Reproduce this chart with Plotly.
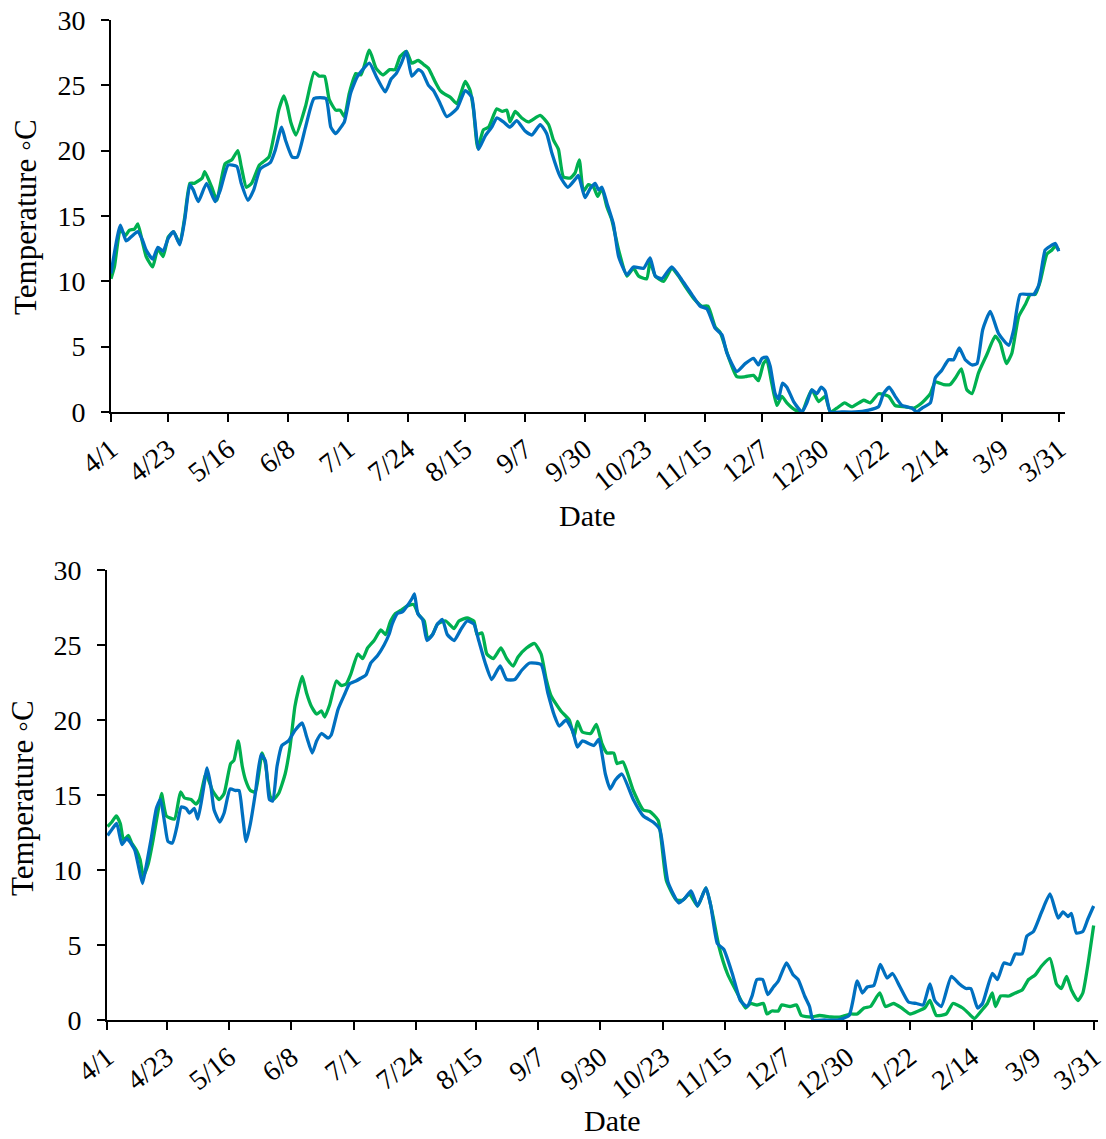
import plotly.graph_objects as go

# ---- tick labels (day offset from 4/1) ----
tick_days = [0, 22, 45, 68, 91, 114, 136, 159, 182, 205, 228, 250, 273, 296, 319, 342, 364]
tick_labels = ["4/1", "4/23", "5/16", "6/8", "7/1", "7/24", "8/15", "9/7", "9/30",
               "10/23", "11/15", "12/7", "12/30", "1/22", "2/14", "3/9", "3/31"]
y_ticks = [0, 5, 10, 15, 20, 25, 30]

# ---- top panel, green series ----
top_green_day = [0, 1.3, 3.6, 5.5, 7, 9, 10.3, 12.2, 13.5, 16, 18, 20, 22, 24, 26.4, 28.3, 30.3, 32, 35, 36,
                 38.7, 40.6, 43.8, 46.4, 48.7, 50, 52, 54, 57, 60.6, 63, 64.4, 66.4, 67.7, 69, 71, 74.7, 78, 80,
                 82, 83.8, 86.3, 88, 89.6, 91.5, 94, 96, 99.2, 101.8, 104.4, 107, 109, 111, 113.4, 115.5, 118,
                 120, 121.9, 123.2, 124.4, 126.4, 128.3, 130.2, 132.8, 136, 137.9, 139.2, 140.8, 143, 145,
                 148.1, 150.3, 152, 153.2, 155.2, 157.7, 160.3, 164.8, 168, 169.9, 171.8, 173.7, 176.3, 178.2,
                 179.8, 181.4, 183.3, 185.3, 186.9, 188.5, 190.4, 192.3, 194.9, 198.1, 200.6, 202.6, 205.7,
                 207, 209, 212.2, 215.3, 217.9, 220.5, 223.7, 226.9, 229.2, 232, 233.9, 237.1, 240.3, 243.5,
                 246.7, 248.6, 250.5, 251.8, 253.7, 255.7, 257.6, 259.5, 262.7, 265.3, 267.2, 269.1, 271.7,
                 274.2, 276.2, 278.7, 281.7, 284.5, 289, 291.5, 294.7, 298.6, 301.1, 305, 308.2, 311.4, 314.6,
                 316.5, 319.7, 322.2, 324.2, 326.5, 328.6, 330.6, 333.1, 336.3, 339.5, 341.4, 343.8, 345.9,
                 348.5, 351, 353, 354.9, 356.8, 359.4, 361.3, 362.6, 363.9]
top_green_temp = [10.2, 11.1, 14.0, 13.5, 13.9, 14.0, 14.4, 12.9, 11.9, 11.1, 12.5, 11.9, 13.4, 13.8, 12.9, 14.9,
                  17.5, 17.5, 17.9, 18.4, 17.2, 16.2, 19.0, 19.3, 20.0, 18.8, 17.2, 17.5, 18.9, 19.5, 21.6,
                  23.1, 24.2, 23.4, 22.2, 21.2, 23.4, 26.0, 25.7, 25.7, 23.9, 23.1, 23.1, 22.6, 24.4, 25.9,
                  25.8, 27.7, 26.3, 25.8, 26.2, 26.2, 27.2, 27.6, 26.7, 26.9, 26.6, 26.3, 25.8, 25.3, 24.6,
                  24.3, 24.1, 23.6, 25.3, 24.6, 23.1, 20.2, 21.6, 21.8, 23.2, 23.0, 23.1, 22.2, 23.0, 22.5,
                  22.2, 22.7, 22.0, 20.8, 20.1, 18.0, 17.9, 18.3, 19.3, 16.9, 17.4, 17.2, 16.5, 17.1, 15.7,
                  14.7, 12.4, 10.4, 11.0, 10.4, 10.2, 11.5, 10.4, 10.0, 11.0, 10.4, 9.6, 8.7, 8.1, 8.1, 6.5,
                  6.1, 4.2, 2.7, 2.7, 2.8, 2.4, 3.7, 4.0, 2.2, 0.5, 1.2, 0.7, 0.15, 0.0, 0.9, 1.7, 0.8, 1.2,
                  0.0, 0.3, 0.7, 0.4, 0.9, 0.7, 1.4, 1.2, 0.5, 0.4, 0.3, 0.7, 1.4, 2.3, 2.1, 2.1, 2.6, 3.3,
                  1.7, 1.4, 3.0, 4.4, 5.8, 5.3, 3.7, 4.5, 7.3, 8.2, 9.0, 9.0, 10.0, 12.1, 12.4, 12.7, 12.4]

# ---- top panel, blue series ----
top_blue_day = [0, 3.6, 5.8, 7.7, 10.3, 12.2, 13.5, 16, 18, 20, 22, 24, 26.4, 28.3, 30.3, 31.6, 33.5, 36.7, 40,
                42, 45, 48.3, 50, 52.6, 54.8, 57.3, 61.2, 63, 65.5, 67, 69.6, 71.5, 74.7, 78, 82.5, 84.4,
                86.3, 88.3, 89.6, 92, 94.7, 99.2, 101.8, 105.3, 107.6, 109.5, 111.5, 113.4, 115.5, 118,
                119.5, 121.9, 123.8, 126.4, 128.9, 132.8, 136, 138.5, 139.8, 141.1, 143.6, 146.2, 148.1,
                150.7, 153.2, 155.8, 159, 161.6, 164.8, 167.3, 169.3, 172.5, 175.4, 178.2, 179.5, 182, 184,
                185.9, 187.2, 188.5, 190.4, 192.9, 194.9, 198.1, 200.6, 204.5, 207, 209, 211.5, 215.3, 219.2,
                223, 226.2, 228.8, 232, 234.6, 236.5, 240.3, 243.5, 246.7, 248.6, 249.9, 251.8, 253.1, 255,
                256.3, 257.8, 259.5, 262.1, 265.3, 267.2, 269.1, 271, 272.7, 274.2, 276.2, 280.6, 285.8,
                290.9, 294.7, 296.6, 298.8, 301.1, 303.7, 307.5, 309.4, 311.4, 314.6, 316.5, 319, 321.6,
                323.5, 325.7, 328, 330.6, 332.5, 334.7, 337.6, 340.8, 344.7, 346.6, 349.1, 352.3, 354.3,
                356.2, 358.7, 360.7, 362.6, 363.9]
top_blue_temp = [10.6, 14.3, 13.1, 13.4, 13.8, 13.1, 12.4, 11.7, 12.6, 12.3, 13.3, 13.8, 12.8, 14.7, 17.4, 17.0,
                 16.1, 17.5, 16.1, 17.0, 18.9, 18.8, 17.5, 16.2, 17.0, 18.6, 19.1, 20.0, 21.8, 20.8, 19.5,
                 19.5, 21.8, 24.0, 24.0, 21.8, 21.3, 21.8, 22.2, 24.4, 25.7, 26.7, 25.7, 24.5, 25.5, 25.9,
                 26.7, 27.6, 25.7, 26.2, 26.0, 25.0, 24.6, 23.6, 22.6, 23.2, 24.6, 24.1, 22.1, 20.1, 21.1,
                 21.8, 22.5, 22.2, 21.8, 22.3, 21.5, 21.2, 22.0, 21.3, 19.8, 18.0, 17.2, 17.8, 18.1, 16.4,
                 17.1, 17.5, 17.0, 17.2, 16.0, 14.4, 11.9, 10.5, 11.1, 11.0, 11.8, 10.4, 10.2, 11.1, 10.1,
                 9.0, 8.1, 7.9, 6.4, 5.9, 4.5, 3.1, 3.7, 4.1, 3.6, 4.1, 4.2, 3.5, 1.4, 1.0, 2.2, 1.9, 0.8,
                 0.0, 0.7, 1.7, 1.4, 1.9, 1.6, 0.0, 0.0, 0.0, 0.15, 0.4, 1.4, 1.9, 1.2, 0.5, 0.3, 0.0, 0.3,
                 0.7, 2.6, 3.2, 4.0, 4.0, 4.9, 4.0, 3.6, 3.7, 6.3, 7.7, 6.0, 5.1, 6.3, 9.0, 9.0, 9.0, 9.7,
                 12.4, 12.7, 12.9, 12.3]

# ---- bottom panel, green series ----
bot_green_day = [0.2, 1.8, 3.4, 4.9, 6.1, 7.9, 9.1, 10.9, 12.2, 13.4, 15.2, 17, 18.9, 20.1, 21.9, 24.9, 27.1,
                 28.6, 31, 32.8, 34.1, 36.5, 38.9, 41.4, 43.2, 45.6, 46.8, 48.4, 49.9, 51.1, 52.9, 54.7, 57.2,
                 58.4, 60.2, 61.4, 63.3, 65.7, 67.5, 69.3, 70.6, 72, 73.6, 75.4, 77.3, 79.1, 80.3, 82.1, 84.6,
                 86.4, 88.2, 90, 92.5, 94.3, 96.1, 98.5, 101, 102.8, 104.6, 106.4, 108.3, 110.7, 113.1, 115,
                 117, 118.3, 120.1, 121.9, 124.9, 128, 129.8, 132.8, 135.3, 136.5, 138.3, 140.1, 142.5, 145.3,
                 147.4, 149.8, 151.6, 154.7, 157.7, 160.1, 162, 163.8, 167.4, 170.5, 172.3, 173.5, 175.3,
                 178.4, 180.5, 182.6, 184.4, 186.9, 188.1, 190.3, 194.1, 197.8, 200.2, 203.3, 206.3, 210,
                 212.4, 214.8, 217.8, 220.9, 223.3, 225.7, 228.8, 233, 235.5, 237.3, 239.7, 242.1, 243.4,
                 245.2, 247.6, 248.8, 251.9, 254.3, 256.1, 259.7, 262.8, 267, 270.7, 274.3, 276.7, 279.2,
                 281.6, 285, 287.1, 290.1, 293.1, 296.2, 299.2, 301.6, 303.5, 305.9, 309.5, 312, 315.6, 318,
                 319.9, 322.9, 324.7, 326.5, 327.7, 329.6, 332.6, 335, 337.5, 339.9, 342.3, 344.7, 347.8,
                 350.2, 352, 353.9, 355.7, 358.1, 359.9, 361.7, 363.9]
bot_green_temp = [12.9, 13.2, 13.6, 13.1, 12.0, 12.3, 11.8, 11.3, 10.7, 9.6, 10.4, 12.0, 14.0, 15.1, 13.6, 13.4,
                  15.2, 14.8, 14.7, 14.4, 14.7, 16.4, 15.3, 14.7, 15.1, 17.1, 17.3, 18.6, 16.9, 16.0, 15.3,
                  15.2, 17.8, 17.1, 14.9, 14.7, 15.1, 16.4, 18.2, 20.9, 22.0, 22.9, 21.8, 20.9, 20.4, 20.6,
                  20.2, 21.0, 22.6, 22.3, 22.4, 23.1, 24.4, 24.1, 24.8, 25.3, 26.0, 25.7, 26.6, 27.1, 27.3,
                  27.6, 27.7, 27.0, 26.6, 25.4, 25.7, 26.4, 26.6, 26.1, 26.6, 26.8, 26.6, 25.7, 25.8, 24.4,
                  24.1, 24.8, 24.1, 23.6, 24.2, 24.8, 25.1, 24.4, 22.7, 21.6, 20.6, 20.0, 18.9, 19.9, 19.2,
                  19.1, 19.7, 18.4, 17.8, 17.8, 17.1, 17.2, 15.3, 14.0, 13.9, 13.3, 9.3, 8.0, 8.0, 8.4, 7.6,
                  8.8, 7.1, 4.9, 3.1, 1.6, 0.8, 1.1, 1.0, 1.1, 0.4, 0.6, 0.6, 1.0, 0.9, 1.0, 0.3, 0.2, 0.3,
                  0.2, 0.2, 0.4, 0.4, 0.8, 0.9, 1.8, 0.9, 1.1, 0.8, 0.4, 0.6, 0.8, 1.3, 0.3, 0.4, 1.1, 0.8,
                  0.4, 0.1, 0.7, 1.1, 1.8, 0.9, 1.6, 1.6, 1.8, 2.0, 2.7, 3.0, 3.6, 4.1, 2.4, 2.1, 2.9, 2.0,
                  1.3, 1.8, 3.6, 6.3]

# ---- bottom panel, blue series ----
bot_blue_day = [0.2, 1.8, 3.6, 5.5, 7.3, 9.1, 10.3, 11.9, 13.1, 14.6, 16.4, 18.2, 19.7, 21.3, 22.5, 24.1, 25.8,
                27.4, 29.2, 30.4, 32.2, 33.5, 35.3, 36.9, 38.3, 39.5, 41.6, 43.2, 45.4, 47.4, 48.7, 49.9, 51.3,
                52.9, 54.7, 56.8, 58.4, 59.9, 61.1, 62.7, 64.5, 66.9, 69.3, 72, 73.6, 75.7, 77.3, 79.1, 81.5,
                82.7, 85.2, 87.6, 89.4, 91.8, 93.7, 95.5, 97.3, 99.8, 102.2, 104, 105.2, 107.1, 108.9, 110.7,
                112.5, 113.4, 114.6, 116.4, 118, 120.1, 121.9, 123.7, 125.5, 128, 130.4, 132.8, 135.3, 137.1,
                139.5, 141.9, 145, 147.4, 150.4, 152.9, 155.9, 160.1, 162.6, 165, 166.8, 169.3, 171.7, 173.5,
                175.3, 179.6, 181.4, 183.8, 185.6, 187.5, 189.9, 194.1, 197.8, 201.4, 203.9, 206.9, 210.9,
                213, 215.4, 217.8, 220.9, 222.7, 225.1, 227.5, 230.6, 233.6, 236.1, 237.9, 239.7, 241.8,
                243.7, 245.8, 247.6, 250.6, 253.1, 254.9, 257.3, 259.1, 260.4, 264.6, 269.5, 273.7, 276.7,
                278.6, 280.4, 282.8, 285.2, 287.7, 289.7, 292.5, 295.6, 298.6, 301, 303.5, 305.3, 307.7,
                311.4, 314.4, 316.8, 318.6, 321.1, 322.9, 326.5, 328.4, 330.8, 333.2, 335, 337.5, 339.3,
                341.7, 344.7, 347.8, 350.8, 352.6, 354.5, 355.7, 357.5, 359.9, 361.7, 363.9]
bot_blue_temp = [12.3, 12.7, 13.1, 11.7, 12.1, 11.7, 11.3, 10.0, 9.1, 10.4, 12.2, 14.1, 14.7, 13.1, 11.9, 11.8,
                 12.9, 14.2, 14.1, 13.8, 14.1, 13.4, 15.1, 16.8, 15.6, 14.0, 13.2, 13.8, 15.4, 15.3, 15.3,
                 13.8, 11.9, 13.1, 15.1, 17.7, 17.3, 14.7, 14.6, 16.9, 18.3, 18.6, 19.3, 19.8, 18.9, 17.8,
                 18.6, 19.1, 18.8, 19.0, 20.7, 21.7, 22.4, 22.6, 22.8, 23.0, 23.8, 24.3, 25.0, 25.7, 26.4,
                 27.1, 27.2, 27.6, 28.1, 28.4, 27.1, 26.7, 25.3, 25.7, 26.4, 26.7, 25.7, 25.3, 26.0, 26.6,
                 26.4, 25.3, 23.8, 22.7, 23.6, 22.7, 22.7, 23.3, 23.8, 23.7, 21.8, 20.3, 19.6, 20.0, 19.3,
                 18.2, 18.6, 18.3, 18.7, 16.4, 15.4, 16.0, 16.4, 14.7, 13.6, 13.2, 12.7, 9.2, 7.8, 8.1, 8.6,
                 7.6, 8.8, 7.6, 5.1, 4.7, 3.1, 1.3, 0.9, 1.6, 2.7, 2.7, 1.7, 2.2, 2.6, 3.8, 3.0, 2.7, 1.6,
                 0.9, 0.0, 0.0, 0.0, 0.3, 2.6, 1.8, 2.2, 2.3, 3.7, 2.8, 3.1, 2.2, 1.2, 1.1, 1.0, 2.4, 1.3,
                 0.9, 2.9, 2.4, 2.1, 2.1, 0.8, 1.1, 3.1, 2.7, 3.8, 3.7, 4.4, 4.4, 5.6, 5.9, 7.2, 8.4, 6.8,
                 7.2, 6.9, 7.1, 5.8, 5.9, 6.7, 7.6]

GREEN = "#00B050"
BLUE = "#0070C0"
FONT = "Liberation Serif"
W, H = 1106, 1139


def line(color):
    return dict(color=color, width=3.3, shape="spline", smoothing=0.5)


fig = go.Figure()
fig.add_trace(go.Scatter(x=top_green_day, y=top_green_temp, mode="lines", line=line(GREEN),
                         xaxis="x", yaxis="y", showlegend=False))
fig.add_trace(go.Scatter(x=top_blue_day, y=top_blue_temp, mode="lines", line=line(BLUE),
                         xaxis="x", yaxis="y", showlegend=False))
fig.add_trace(go.Scatter(x=bot_green_day, y=bot_green_temp, mode="lines", line=line(GREEN),
                         xaxis="x2", yaxis="y2", showlegend=False))
fig.add_trace(go.Scatter(x=bot_blue_day, y=bot_blue_temp, mode="lines", line=line(BLUE),
                         xaxis="x2", yaxis="y2", showlegend=False))

xcommon = dict(tickmode="array", tickvals=tick_days, ticktext=tick_labels, tickangle=-38,
               showline=True, linecolor="black", linewidth=2, ticks="outside", ticklen=8,
               tickwidth=2, tickcolor="black", showgrid=False, zeroline=False, automargin=False,
               ticklabeloverflow="allow",
               tickfont=dict(family=FONT, size=28, color="black"))
ycommon = dict(tickmode="array", tickvals=y_ticks, range=[0, 30], automargin=False,
               showline=True, linecolor="black", linewidth=2, ticks="outside", ticklen=8,
               tickwidth=2, tickcolor="black", showgrid=False, zeroline=False,
               ticklabeloverflow="allow",
               tickfont=dict(family=FONT, size=28, color="black"), ticklabelstandoff=10)

fig.update_layout(
    template="none",
    width=W, height=H, margin=dict(l=0, r=0, t=0, b=0, autoexpand=False),
    paper_bgcolor="white", plot_bgcolor="white",
    xaxis=dict(xcommon, domain=[111 / W, 1065 / W], range=[0, 366.3], anchor="y"),
    yaxis=dict(ycommon, domain=[1 - 412 / H, 1 - 20 / H], anchor="x"),
    xaxis2=dict(xcommon, domain=[107 / W, 1098 / W], range=[0, 365.5], anchor="y2"),
    yaxis2=dict(ycommon, domain=[1 - 1020 / H, 1 - 570 / H], anchor="x2"),
    annotations=[
        dict(text="Temperature \u25e6C", x=25 / W, y=1 - 217 / H, xref="paper", yref="paper",
             textangle=-90, showarrow=False, font=dict(family=FONT, size=31, color="black"),
             xanchor="center", yanchor="middle"),
        dict(text="Date", x=588 / W, y=1 - 515 / H, xref="paper", yref="paper",
             showarrow=False, font=dict(family=FONT, size=30, color="black"),
             xanchor="center", yanchor="middle"),
        dict(text="Temperature \u25e6C", x=22 / W, y=1 - 798 / H, xref="paper", yref="paper",
             textangle=-90, showarrow=False, font=dict(family=FONT, size=31, color="black"),
             xanchor="center", yanchor="middle"),
        dict(text="Date", x=612 / W, y=1 - 1120 / H, xref="paper", yref="paper",
             showarrow=False, font=dict(family=FONT, size=30, color="black"),
             xanchor="center", yanchor="middle"),
    ],
)

fig.write_html("out.html")
